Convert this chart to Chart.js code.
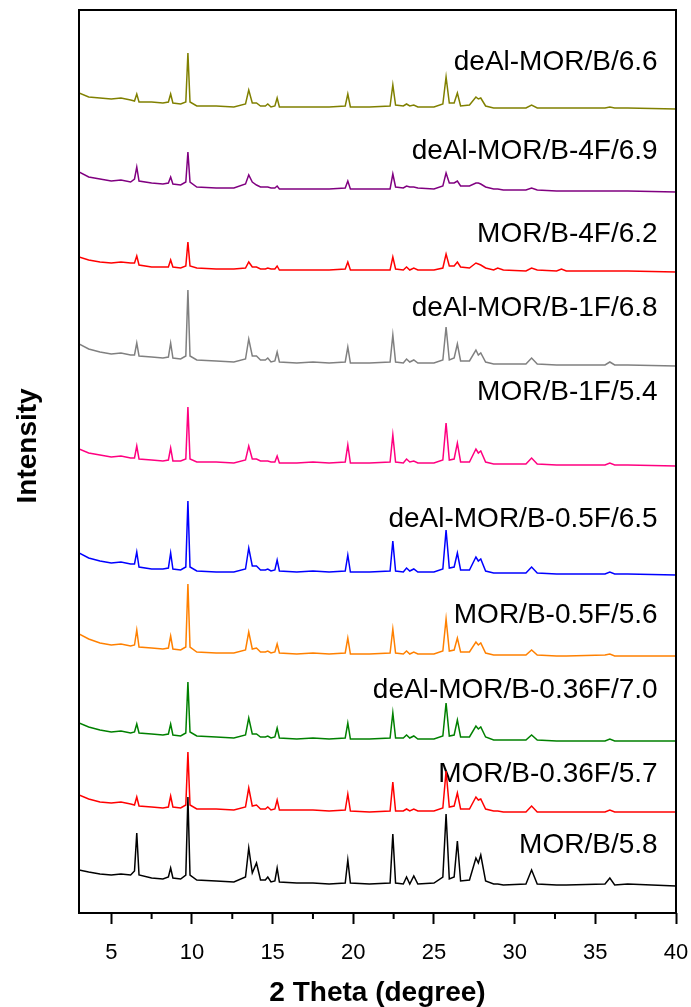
<!DOCTYPE html>
<html>
<head>
<meta charset="utf-8">
<title>XRD patterns</title>
<script src="https://cdn.jsdelivr.net/npm/chart.js@4.4.1/dist/chart.umd.min.js"></script>
<style>
  html, body { margin: 0; padding: 0; background: #fff; }
  canvas { display: block; }
</style>
</head>
<body>
<canvas id="xrd" width="691" height="1007"></canvas>
<script>
// 2 theta positions shared by every pattern
const twoTheta = [
  3.0, 3.6, 4.3, 5.0, 5.6, 6.2,
  6.44, 6.58, 6.72,
  7.5, 8.2, 8.54, 8.68, 8.82,
  9.3, 9.62, 9.75, 9.88,
  10.3, 11.5, 12.6,
  13.32, 13.52, 13.74, 14.0,
  14.25, 14.55, 14.7, 14.9, 15.14, 15.28, 15.42,
  16.5, 17.5, 18.5, 19.5, 19.66, 19.82,
  21.0, 22.28, 22.45, 22.62, 23.1, 23.3, 23.5, 23.75, 24.0,
  25.0, 25.55, 25.75, 25.95, 26.25, 26.45, 26.65,
  27.2, 27.6, 27.75, 27.9, 28.2,
  28.7, 28.95, 29.3, 30.7, 31.05, 31.4, 32.6, 32.9, 33.2,
  35.6, 35.9, 36.2, 37.0, 40.0
];

// stacked intensities (already shifted), bottom pattern first
const morB = [
  43, 41, 39, 38, 39, 38,
  42, 80, 38,
  35, 34, 36, 45, 35,
  34, 38, 116, 38,
  33, 32, 31,
  36, 65, 40, 50,
  33, 33, 36, 31, 32, 45, 31,
  30, 30, 29, 30, 53, 30,
  29, 30, 79, 30, 29, 36, 29, 37, 29,
  30, 36, 99, 34, 36, 72, 32,
  33, 55, 50, 58, 32,
  29, 29, 28, 29, 43, 29, 28, 28, 28,
  29, 35, 28, 29, 27
];
const morB036F = [
  118, 114, 111, 110, 111, 109,
  108, 116, 107,
  106, 105, 106, 117, 106,
  105, 108, 161, 108,
  104, 104, 103,
  106, 125, 107, 108,
  104, 104, 106, 103, 104, 113, 103,
  103, 103, 102, 103, 119, 102,
  101, 102, 131, 102, 102, 104, 102, 104, 102,
  102, 105, 142, 106, 107, 120, 104,
  104, 116, 113, 114, 104,
  102, 102, 101, 101, 107, 101, 101, 101, 101,
  101, 103, 101, 101, 101
];
const deAlMorB036F = [
  190, 186, 183, 181, 182, 180,
  181, 189, 180,
  179, 178, 179, 189, 178,
  177, 180, 231, 181,
  177, 176, 175,
  178, 195, 179, 179,
  176, 176, 177, 175, 176, 185, 175,
  174, 175, 174, 175, 190, 174,
  174, 175, 200, 175, 175, 178, 175, 177, 174,
  174, 177, 210, 177, 178, 193, 176,
  176, 187, 184, 186, 176,
  173, 173, 173, 173, 178, 173, 172, 172, 172,
  172, 174, 172, 172, 172
];
const morB05F = [
  279, 274, 270, 268, 269, 267,
  268, 283, 266,
  265, 264, 265, 277, 264,
  263, 266, 329, 266,
  261, 260, 260,
  263, 281, 264, 265,
  261, 261, 262, 260, 261, 269, 260,
  259, 260, 259, 260, 275, 259,
  259, 260, 284, 260, 259, 262, 259, 261, 259,
  259, 262, 294, 262, 263, 275, 261,
  261, 271, 268, 270, 260,
  258, 258, 258, 258, 263, 258, 257, 257, 257,
  258, 259, 257, 257, 257
];
const deAlMorB05F = [
  360, 355, 352, 350, 351, 349,
  349, 361, 346,
  344, 344, 345, 360, 344,
  343, 346, 412, 346,
  342, 341, 341,
  344, 365, 347, 347,
  343, 343, 344, 342, 343, 353, 342,
  341, 342, 341, 342, 358, 341,
  341, 342, 372, 342, 341, 345, 342, 344, 341,
  341, 344, 383, 345, 346, 360, 343,
  343, 356, 352, 354, 342,
  340, 340, 340, 340, 346, 340, 339, 339, 339,
  339, 341, 339, 339, 338
];
const morB1F = [
  464, 460, 458, 456, 457, 455,
  455, 467, 454,
  453, 452, 453, 465, 452,
  452, 454, 506, 454,
  451, 451, 450,
  453, 467, 454, 454,
  452, 452, 452, 451, 451, 457, 450,
  450, 451, 450, 451, 468, 450,
  450, 451, 478, 451, 450, 454, 451, 452, 450,
  450, 453, 490, 453, 454, 470, 451,
  451, 464, 460, 462, 451,
  449, 449, 449, 449, 455, 449, 448, 448, 448,
  448, 450, 448, 448, 447
];
const deAlMorB1F = [
  569, 564, 561, 559, 560, 558,
  558, 570, 557,
  556, 555, 556, 570, 555,
  554, 557, 623, 557,
  553, 552, 551,
  554, 574, 557, 557,
  553, 553, 555, 551, 552, 561, 551,
  550, 551, 550, 551, 566, 550,
  550, 551, 578, 551, 550, 554, 551, 553, 550,
  550, 553, 586, 553, 555, 569, 552,
  552, 563, 558, 560, 551,
  549, 549, 549, 549, 555, 549, 548, 548, 548,
  548, 551, 548, 548, 547
];
const morB4F = [
  656, 653, 651, 650, 651, 650,
  650, 657, 648,
  646, 646, 646, 653, 646,
  645, 647, 671, 647,
  645, 644, 644,
  645, 651, 646, 646,
  644, 644, 645, 644, 644, 647, 643,
  643, 643, 643, 644, 651, 643,
  643, 643, 656, 644, 643, 646, 643, 645, 643,
  643, 645, 659, 647, 647, 651, 646,
  645, 650, 649, 648, 645,
  643, 645, 643, 642, 645, 643, 642, 644, 642,
  642, 642, 642, 642, 641
];
const deAlMorB4F = [
  741, 736, 734, 732, 733, 731,
  734, 746, 732,
  730, 729, 730, 736, 729,
  728, 731, 761, 731,
  726, 725, 725,
  729, 738, 731, 728,
  726, 726, 726, 725, 725, 727, 724,
  724, 724, 724, 725, 732, 724,
  724, 724, 739, 726, 725, 727, 726, 726, 725,
  724, 727, 740, 730, 730, 732, 727,
  727, 730, 730, 729, 726,
  724, 724, 723, 723, 725, 723, 722, 722, 722,
  722, 722, 722, 722, 721
];
const deAlMorB = [
  820, 816, 815, 814, 815, 813,
  812, 819, 811,
  811, 810, 811, 819, 810,
  809, 811, 860, 811,
  807, 807, 806,
  809, 823, 810, 810,
  807, 807, 809, 806, 807, 815, 806,
  806, 806, 806, 807, 819, 806,
  806, 807, 828, 808, 807, 809, 807, 808, 806,
  806, 809, 836, 810, 810, 820, 807,
  808, 816, 814, 815, 807,
  805, 805, 805, 805, 808, 805, 805, 805, 805,
  805, 806, 805, 805, 804
];

const patterns = [morB, morB036F, deAlMorB036F, morB05F, deAlMorB05F,
                  morB1F, deAlMorB1F, morB4F, deAlMorB4F, deAlMorB];
const sampleNames = [
  'MOR/B/5.8', 'MOR/B-0.36F/5.7', 'deAl-MOR/B-0.36F/7.0', 'MOR/B-0.5F/5.6',
  'deAl-MOR/B-0.5F/6.5', 'MOR/B-1F/5.4', 'deAl-MOR/B-1F/6.8', 'MOR/B-4F/6.2',
  'deAl-MOR/B-4F/6.9', 'deAl-MOR/B/6.6'
];
const xTicks = [5, 10, 15, 20, 25, 30, 35, 40];

// drawing styles
const colors = ['#000000', '#ff0000', '#008000', '#ff8000', '#0000ff',
                '#ff0080', '#808080', '#ff0000', '#800080', '#808000'];
const labelX = 38.86;
const labelY = [68, 139, 223, 298, 394, 521, 605, 679, 762, 851];
const fontFamily = '"Liberation Sans", Arial, sans-serif';

// sample names, box frame and minor ticks
const decorations = {
  id: 'decorations',
  beforeDatasetsDraw(chart) {
    const { ctx, scales: { x, y } } = chart;
    ctx.save();
    ctx.font = '28px ' + fontFamily;
    ctx.fillStyle = '#000';
    ctx.textAlign = 'right';
    ctx.textBaseline = 'middle';
    sampleNames.forEach((name, i) => {
      ctx.fillText(name, x.getPixelForValue(labelX), y.getPixelForValue(labelY[i]));
    });
    ctx.restore();
  },
  afterDraw(chart) {
    const { ctx, chartArea: a, scales: { x } } = chart;
    ctx.save();
    ctx.strokeStyle = '#000';
    ctx.lineWidth = 2;
    ctx.strokeRect(a.left, a.top, a.right - a.left, a.bottom - a.top);
    ctx.beginPath();
    for (let i = 0; i < xTicks.length - 1; i++) {
      const px = x.getPixelForValue((xTicks[i] + xTicks[i + 1]) / 2);
      ctx.moveTo(px, a.bottom);
      ctx.lineTo(px, a.bottom + 6);
    }
    ctx.stroke();
    ctx.restore();
  }
};

const ctx = document.getElementById('xrd').getContext('2d');

new Chart(ctx, {
  type: 'line',
  data: {
    datasets: patterns.map((values, i) => ({
      label: sampleNames[i],
      data: twoTheta.map((t, j) => ({ x: t, y: values[j] })),
      borderColor: colors[i],
      borderWidth: 1.5,
      pointRadius: 0,
      tension: 0,
      fill: false,
    })),
  },
  options: {
    responsive: false,
    animation: false,
    devicePixelRatio: 1,
    layout: { padding: { top: 10, right: 15, left: 0, bottom: 0 } },
    plugins: { legend: { display: false }, tooltip: { enabled: false } },
    scales: {
      x: {
        type: 'linear',
        min: 3,
        max: 40,
        afterFit: (scale) => {
          scale.height = 94;
          scale.paddingLeft = 0;
          scale.paddingRight = 0;
        },
        afterBuildTicks: (scale) => { scale.ticks = xTicks.map(v => ({ value: v })); },
        ticks: {
          includeBounds: false,
          color: '#000',
          padding: 16,
          font: { family: fontFamily, size: 22 },
        },
        grid: {
          drawOnChartArea: false,
          drawTicks: true,
          tickLength: 11,
          tickWidth: 2,
          tickColor: '#000',
        },
        border: { display: false },
        title: {
          display: true,
          text: '2 Theta (degree)',
          color: '#000',
          padding: { top: 0, bottom: 0 },
          font: { family: fontFamily, size: 28, weight: 'bold', lineHeight: 1 },
        },
      },
      y: {
        min: 0,
        max: 903,
        afterFit: (scale) => { scale.width = 79; },
        ticks: { display: false },
        grid: { display: false },
        border: { display: false },
        title: {
          display: true,
          text: '\u00a0\u00a0\u00a0\u00a0Intensity',
          color: '#000',
          padding: { top: 14, bottom: 0 },
          font: { family: fontFamily, size: 28, weight: 'bold', lineHeight: 1 },
        },
      },
    },
  },
  plugins: [decorations],
});
</script>
</body>
</html>
